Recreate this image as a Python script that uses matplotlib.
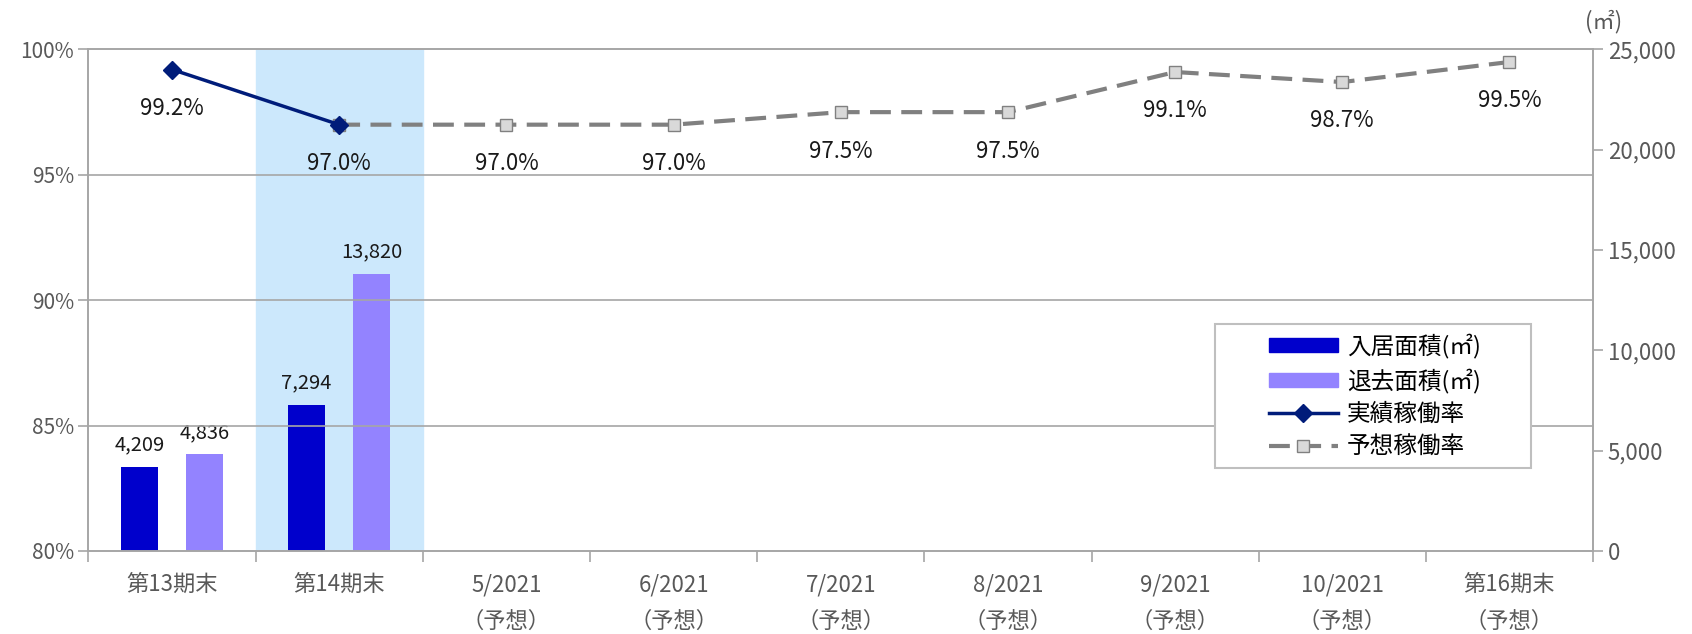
import matplotlib.pyplot as plt
import numpy as np
from matplotlib.patches import Patch, Rectangle
from matplotlib.lines import Line2D

plt.rcParams['font.family'] = ['Noto Sans CJK JP', 'DejaVu Sans']

categories = ['第13期末', '第14期末', '5/2021\n（予想）', '6/2021\n（予想）', '7/2021\n（予想）',
              '8/2021\n（予想）', '9/2021\n（予想）', '10/2021\n（予想）', '第16期末\n（予想）']
move_in = [4209, 7294]
move_out = [4836, 13820]
actual_rate = [99.2, 97.0]
forecast_rate = [97.0, 97.0, 97.0, 97.5, 97.5, 99.1, 98.7, 99.5]

x = np.arange(len(categories))
grey = '#595959'

fig = plt.figure(figsize=(16.92, 6.34), dpi=100)
ax = fig.add_axes([0.0523, 0.131, 0.8892, 0.791])
ax2 = ax.twinx()

# bars on the right (㎡) axis, drawn behind the rate lines
ax.set_zorder(2)
ax.patch.set_visible(False)
ax2.set_zorder(1)

ax2.axvspan(0.5, 1.5, color='#CCE8FC', zorder=0)
bw = 0.22
bx = x[:len(move_in)]
ax2.bar(bx - 0.195, move_in, bw, color='#0000CC', zorder=2)
ax2.bar(bx + 0.195, move_out, bw, color='#9383FF', zorder=2)
for xi, v in zip(bx - 0.195, move_in):
    ax2.annotate(f'{v:,}', (xi, v), xytext=(0, 8), textcoords='offset points',
                 ha='center', va='bottom', fontsize=14.5, color='#1a1a1a')
for xi, v in zip(bx + 0.195, move_out):
    ax2.annotate(f'{v:,}', (xi, v), xytext=(0, 8), textcoords='offset points',
                 ha='center', va='bottom', fontsize=14.5, color='#1a1a1a')

ax2.set_ylim(0, 25000)
ax2.set_yticks(np.arange(0, 25001, 5000))
ax2.set_yticklabels([f'{v:,}' for v in range(0, 25001, 5000)])

# rate lines on the left (%) axis
for y in [85, 90, 95]:
    ax.axhline(y, color='#A6A6A6', lw=1.2, zorder=1)
fx = x[1:]
ax.plot(fx, forecast_rate, color='#808080', lw=3, ls=(0, (5, 2.5)),
        marker='s', ms=9, mfc='#D9D9D9', mec='#808080', mew=1, zorder=3)
ax.plot(x[:2], actual_rate, color='#001C7A', lw=2.5, marker='D', ms=9,
        mfc='#001C7A', mec='#001C7A', zorder=4)

labels = [actual_rate[0]] + forecast_rate
for xi, v in zip(x, labels):
    ax.annotate(f'{v:.1f}%', (xi, v), xytext=(0, -28), textcoords='offset points',
                ha='center', va='center', fontsize=16, color='#1a1a1a')

ax.set_xlim(-0.5, len(categories) - 0.5)
ax.set_ylim(80, 100)
ax.set_yticks([80, 85, 90, 95, 100])
ax.set_yticklabels([f'{v}%' for v in [80, 85, 90, 95, 100]])
ax.set_xticks(x)
ax.set_xticklabels(categories, fontsize=16, color=grey, linespacing=1.75, va='top')
ax.tick_params(axis='x', length=0, pad=16)
ax.set_xticks(np.arange(-0.5, len(categories)), minor=True)
ax.tick_params(axis='x', which='minor', length=8, color='#A6A6A6', width=1.2)
ax.tick_params(axis='y', length=7, color='#A6A6A6', width=1.2, labelsize=15, labelcolor=grey)
ax2.tick_params(axis='y', length=7, color='#A6A6A6', width=1.2, labelsize=16, labelcolor=grey)

for a in (ax, ax2):
    for s in a.spines.values():
        s.set_color('#A6A6A6')
        s.set_linewidth(1.2)

fig.text(0.948, 0.966, '(㎡)', ha='center', va='center', fontsize=16, color=grey)

# legend frame drawn separately so the inner padding matches
ax.add_patch(Rectangle((0.749, 0.1655), 0.21, 0.2872, transform=ax.transAxes,
                       facecolor='white', edgecolor='#BFBFBF', lw=1.5, zorder=9))
handles = [Patch(color='#0000CC'), Patch(color='#9383FF'),
           Line2D([], [], color='#001C7A', lw=2.5, marker='D', ms=9),
           Line2D([], [], color='#808080', lw=3, ls=(0, (5, 2.5)), marker='s', ms=9,
                  mfc='#D9D9D9', mec='#808080')]
names = ['入居面積(㎡)', '退去面積(㎡)', '実績稼働率', '予想稼働率']
leg = ax.legend(handles, names, loc='center left', bbox_to_anchor=(0.7846, 0.309),
                fontsize=17, frameon=False, handlelength=2.92, handleheight=0.55,
                borderpad=0, labelspacing=0.42, borderaxespad=0, handletextpad=0.38)
leg.set_zorder(10)

fig.savefig('out.png', dpi=100)
